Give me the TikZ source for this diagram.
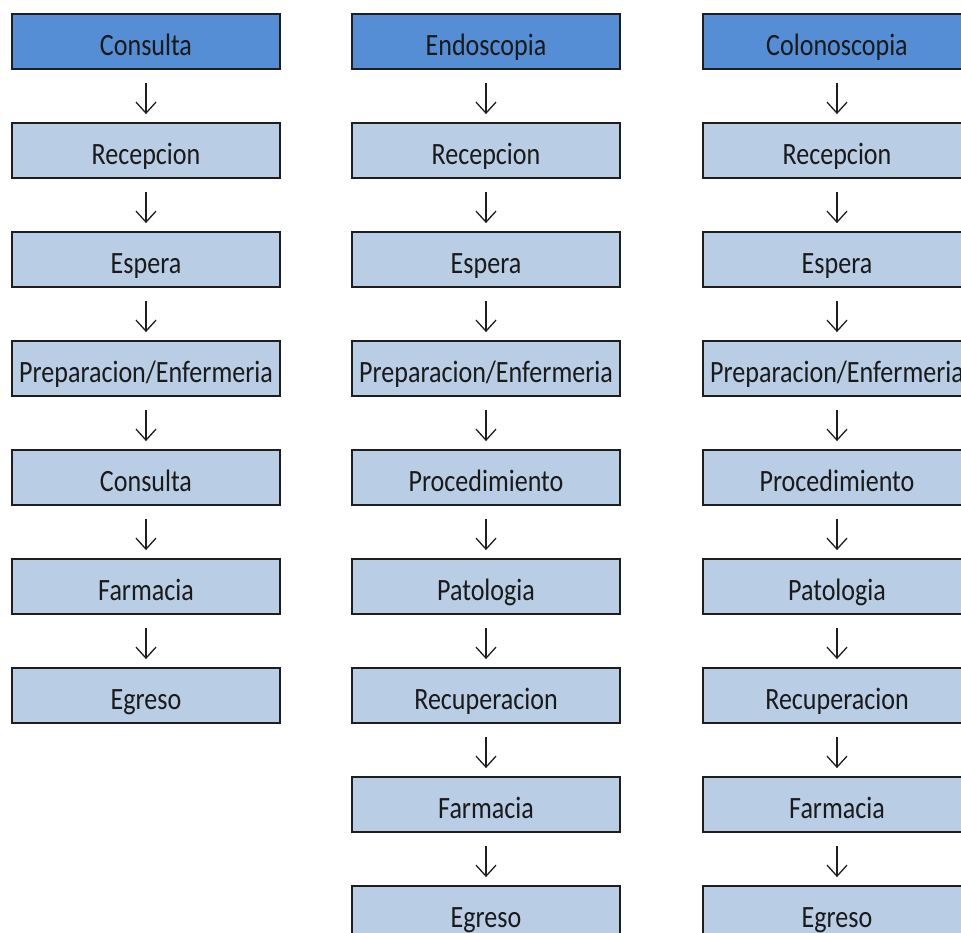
\documentclass[tikz,border=0pt]{standalone}
\usepackage{fontspec}
\setmainfont{Carlito}
\newfontfamily\boxfont[FakeStretch=0.84]{Carlito}
\usetikzlibrary{arrows.meta,positioning}
\definecolor{head}{HTML}{558ED5}
\definecolor{pale}{HTML}{B9CDE5}
\definecolor{edge}{HTML}{1E1E1E}
\definecolor{ink}{HTML}{1A1A1A}
\tikzset{
  base/.style={font=\boxfont\fontsize{31}{34}\selectfont,text=ink,draw=edge,line width=1.8pt,minimum width=268pt,minimum height=55pt,inner sep=0pt,text height=29pt,text depth=1pt},
  header/.style={base,fill=head},
  stage/.style={base,fill=pale},
  flow/.style={-{Straight Barb[length=11pt,width=20pt]},line width=1.3pt,draw=edge,shorten <=13pt,shorten >=8pt}
}

\begin{document}
\begin{tikzpicture}[x=1pt,y=-1pt,node distance=52.2pt]
\useasboundingbox (0,0) rectangle (961,933);
% consulta
\node[header] (c0) at (146,41.5) {Consulta};
\node[stage,below=of c0] (c1) {Recepcion};
\node[stage,below=of c1] (c2) {Espera};
\node[stage,below=of c2] (c3) {Preparacion/Enfermeria};
\node[stage,below=of c3] (c4) {Consulta};
\node[stage,below=of c4] (c5) {Farmacia};
\node[stage,below=of c5] (c6) {Egreso};
% endoscopia
\node[header] (e0) at (486,41.5) {Endoscopia};
\node[stage,below=of e0] (e1) {Recepcion};
\node[stage,below=of e1] (e2) {Espera};
\node[stage,below=of e2] (e3) {Preparacion/Enfermeria};
\node[stage,below=of e3] (e4) {Procedimiento};
\node[stage,below=of e4] (e5) {Patologia};
\node[stage,below=of e5] (e6) {Recuperacion};
\node[stage,below=of e6] (e7) {Farmacia};
\node[stage,below=of e7] (e8) {Egreso};
% colonoscopia
\node[header] (k0) at (837,41.5) {Colonoscopia};
\node[stage,below=of k0] (k1) {Recepcion};
\node[stage,below=of k1] (k2) {Espera};
\node[stage,below=of k2] (k3) {Preparacion/Enfermeria};
\node[stage,below=of k3] (k4) {Procedimiento};
\node[stage,below=of k4] (k5) {Patologia};
\node[stage,below=of k5] (k6) {Recuperacion};
\node[stage,below=of k6] (k7) {Farmacia};
\node[stage,below=of k7] (k8) {Egreso};

\foreach \a/\b in {0/1,1/2,2/3,3/4,4/5,5/6}
  \draw[flow] (c\a) -- (c\b);
\foreach \a/\b in {0/1,1/2,2/3,3/4,4/5,5/6,6/7,7/8} {
  \draw[flow] (e\a) -- (e\b);
  \draw[flow] (k\a) -- (k\b);
}
\end{tikzpicture}
\end{document}
